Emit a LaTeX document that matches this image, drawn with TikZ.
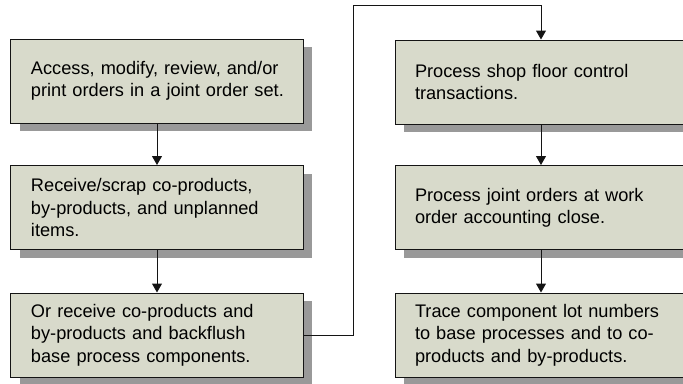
\documentclass[tikz,border=0pt]{standalone}
\usepackage{fontspec}
\setmainfont{Liberation Sans}
\usetikzlibrary{arrows.meta,shadows}
\definecolor{boxfill}{RGB}{216,218,203}
\definecolor{shadowgray}{RGB}{153,153,153}
\definecolor{linecol}{RGB}{20,20,20}
\begin{document}
\begin{tikzpicture}[x=1bp,y=-1bp,
  stepbox/.style={draw=linecol, line width=1bp, fill=boxfill,
    minimum width=292bp, minimum height=84bp, text width=252bp,
    inner xsep=20bp, inner ysep=0bp, align=left,
    font=\fontsize{18.2bp}{22.3bp}\selectfont,
    drop shadow={shadow xshift=9bp, shadow yshift=-8bp, fill=shadowgray, opacity=1}},
  conn/.style={draw=linecol, line width=1bp, -{Triangle[width=10bp,length=9bp]}}]
\useasboundingbox (0,0) rectangle (683,383);
\clip (0,0) rectangle (683,383);
\node[stepbox] (b1) at (157,81) {\mbox{Access, modify, review, and/or}\\\mbox{print orders in a joint order set.}};
\node[stepbox] (b2) at (157,207.5) {\mbox{Receive/scrap co-products,}\\\mbox{by-products, and unplanned}\\\mbox{items.}};
\node[stepbox] (b3) at (157,335) {\mbox{Or receive co-products and}\\\mbox{by-products and backflush}\\\mbox{base process components.}};
\node[stepbox] (b4) at (541,82) {\mbox{Process shop floor control}\\\mbox{transactions.}};
\node[stepbox] (b5) at (541,207.5) {\mbox{Process joint orders at work}\\\mbox{order accounting close.}};
\node[stepbox] (b6) at (541,335) {\mbox{Trace component lot numbers}\\\mbox{to base processes and to co-}\\\mbox{products and by-products.}};
\coordinate (c1) at (353,5);
\draw[conn] (b1) -- (b2);
\draw[conn] (b2) -- (b3);
\draw[conn] (b3.east) -| (c1) -| (b4.north);
\draw[conn] (b4) -- (b5);
\draw[conn] (b5) -- (b6);
\end{tikzpicture}
\end{document}
